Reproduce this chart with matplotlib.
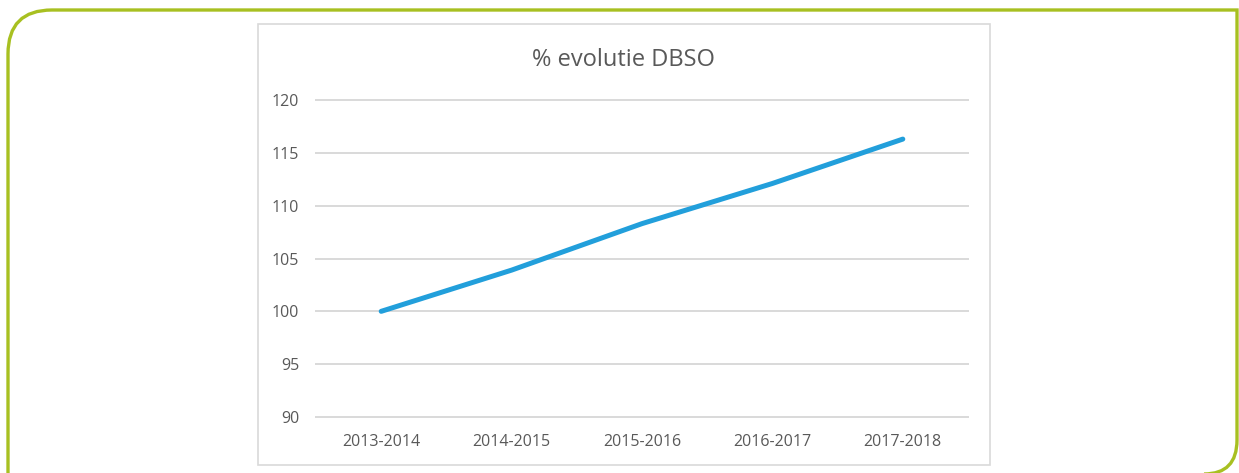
import matplotlib.pyplot as plt
import numpy as np
from matplotlib.path import Path
from matplotlib.patches import PathPatch, Rectangle

plt.rcParams['font.family'] = ['Open Sans', 'DejaVu Sans']

# data
seasons = ['2013-2014', '2014-2015', '2015-2016', '2016-2017', '2017-2018']
evolutie = [100, 103.9, 108.3, 112.1, 116.3]
y_ticks = [90, 95, 100, 105, 110, 115, 120]

W, H = 1239, 473
fig = plt.figure(figsize=(W / 100, H / 100), dpi=100)

# background layer in pixel coordinates (green frame + chart box)
bg = fig.add_axes([0, 0, 1, 1], zorder=0)
bg.set_xlim(0, W)
bg.set_ylim(H, 0)
bg.axis('off')

green = '#a8c021'
verts = [(8, 480), (8, 54), (8, 10), (52, 10), (1237, 10), (1237, 440),
         (1237, 474), (1204, 474), (1204, 480)]
codes = [Path.MOVETO, Path.LINETO, Path.CURVE3, Path.CURVE3, Path.LINETO,
         Path.LINETO, Path.CURVE3, Path.CURVE3, Path.LINETO]
bg.add_patch(PathPatch(Path(verts, codes), facecolor='none', edgecolor=green,
                       lw=2.4, capstyle='butt', joinstyle='miter'))
bg.add_patch(Rectangle((258, 24), 732, 441, facecolor='white',
                       edgecolor='#d9d9d9', lw=1.2))
bg.text(624, 60, '% evolutie DBSO', ha='center', va='center',
        fontsize=17, color='#595959')

# the chart itself
ax = fig.add_axes([316 / W, 1 - 417 / H, 652 / W, 317 / H], zorder=1)
ax.patch.set_alpha(0)
x = np.arange(len(seasons))
ax.plot(x, evolutie, color='#229fdb', lw=3.6, solid_capstyle='round', zorder=3)

ax.set_xlim(-0.5, len(seasons) - 0.5)
ax.set_ylim(90, 120)
ax.set_yticks(y_ticks)
ax.set_xticks(x)
ax.set_xticklabels(seasons)
ax.grid(axis='y', color='#d9d9d9', lw=1.4)
for g in ax.yaxis.get_gridlines():
    g.set_clip_on(False)
ax.set_axisbelow(True)
for s in ax.spines.values():
    s.set_visible(False)
ax.tick_params(axis='both', length=0, labelsize=11.5, labelcolor='#595959')
ax.tick_params(axis='y', pad=12)
ax.tick_params(axis='x', pad=12)

fig.savefig('out.png', dpi=100)
